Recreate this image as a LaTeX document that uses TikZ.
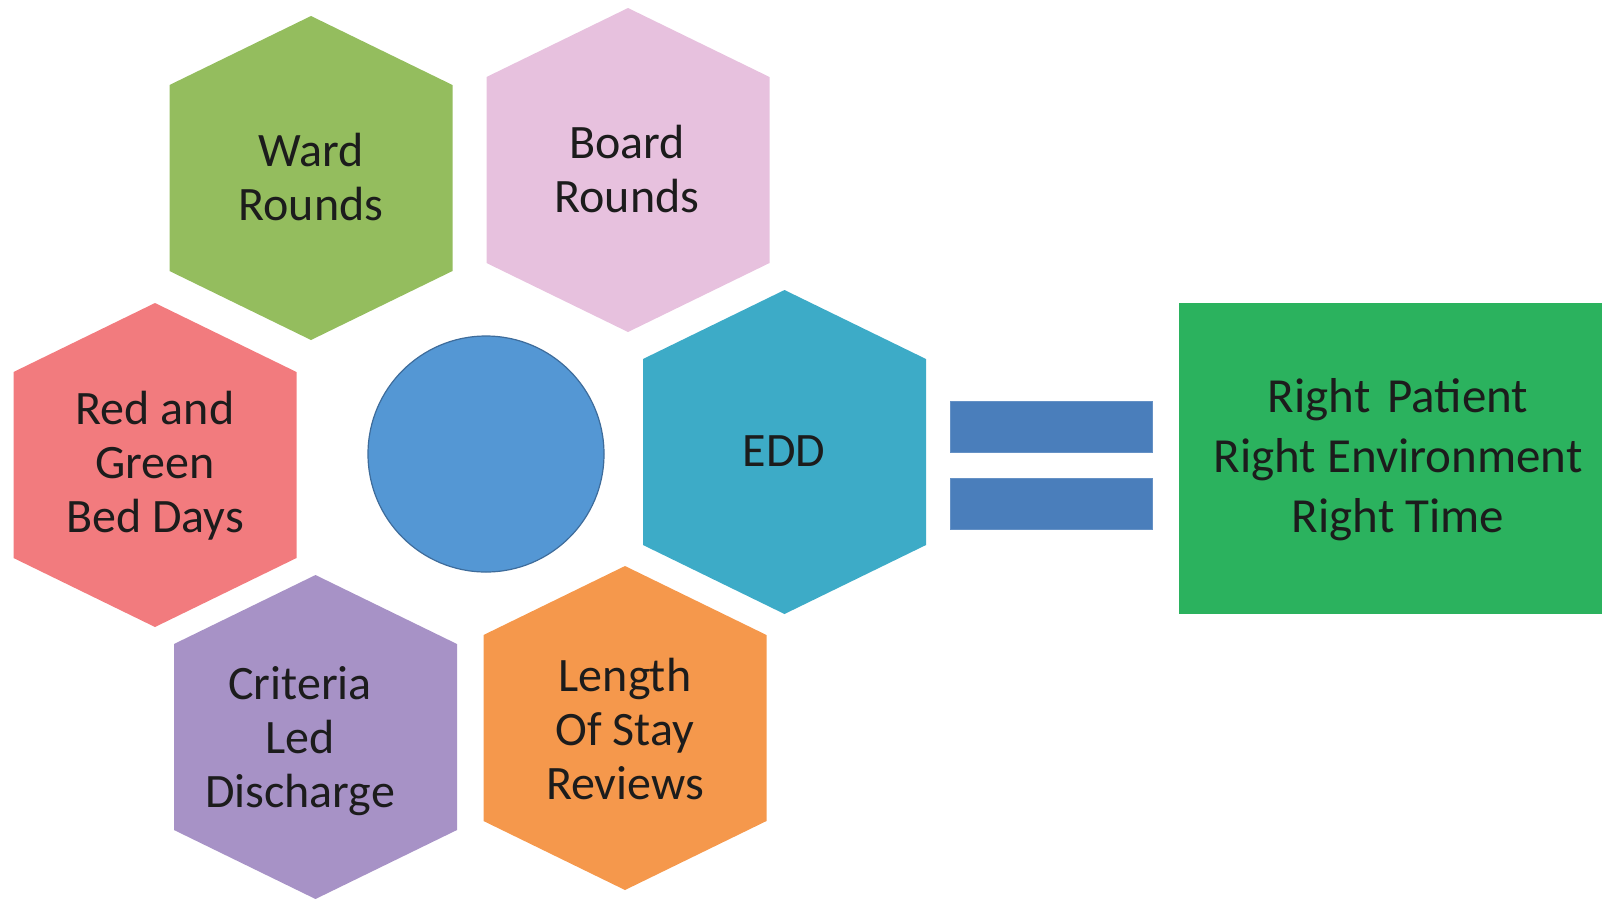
\documentclass[tikz,border=0pt]{standalone}
\usepackage{fontspec}
\setmainfont{Carlito}

\definecolor{wardgreen}{RGB}{148,189,94}
\definecolor{boardpink}{RGB}{231,193,222}
\definecolor{bedred}{RGB}{242,123,126}
\definecolor{hubblue}{RGB}{84,151,212}
\definecolor{hubedge}{RGB}{62,108,155}
\definecolor{eddteal}{RGB}{61,171,199}
\definecolor{cldpurple}{RGB}{167,146,198}
\definecolor{losorange}{RGB}{245,152,76}
\definecolor{barblue}{RGB}{74,126,187}
\definecolor{outgreen}{RGB}{43,178,94}
\definecolor{inktext}{RGB}{28,28,28}

% Hexagon with pointed top and bottom: fill colour, centre x, centre y
\newcommand{\hexcell}[3]{%
  \fill[#1] (#2-141.5,#3-93) -- (#2,#3-162) -- (#2+141.5,#3-93)
    -- (#2+141.5,#3+93) -- (#2,#3+162) -- (#2-141.5,#3+93) -- cycle;}

\begin{document}
\begin{tikzpicture}[x=1pt,y=-1pt,
  celltext/.style={align=center,text=inktext,inner sep=0pt,
    font=\fontsize{48}{54}\selectfont},
  barshape/.style={rectangle,fill=barblue,draw=barblue!85!white,line width=0.8pt,
    minimum width=202pt,minimum height=51pt,inner sep=0pt},
  outtext/.style={align=center,text=inktext,inner sep=0pt,
    font=\fontsize{49}{60}\selectfont}]
\useasboundingbox (0,0) rectangle (1602,898);

% hexagon ring around the hub
\hexcell{wardgreen}{311}{178}
\hexcell{boardpink}{628}{170}
\hexcell{bedred}{155}{465}
\hexcell{eddteal}{784.5}{452}
\hexcell{cldpurple}{315.5}{737}
\hexcell{losorange}{625}{728}

\node[celltext] (ward) at (311,177) {Ward\\Rounds};
\node[celltext] (board) at (627,169) {Board\\Rounds};
\node[celltext] (bed) at (155,466) {Red and\\Green\\Bed Days};
\node[celltext] (edd) at (784,451) {EDD};
\node[celltext] (cld) at (300,741) {Criteria\\Led\\Discharge};
\node[celltext] (los) at (625,729) {Length\\Of Stay\\Reviews};

% central hub
\node[circle,fill=hubblue,draw=hubedge,line width=1.2pt,minimum size=236pt,
  inner sep=0pt] (hub) at (486,454) {};

% equals sign
\node[barshape] (bartop) at (1051,427) {};
\node[barshape] (barbottom) at (1051,503.5) {};

% outcome box
\fill[outgreen] (1179,303) rectangle (1602,614);
\node[outtext] (outcome) at (1398,460)
  {Right\hspace{0.12em} Patient\\Right Environment\\Right Time};
\end{tikzpicture}
\end{document}
